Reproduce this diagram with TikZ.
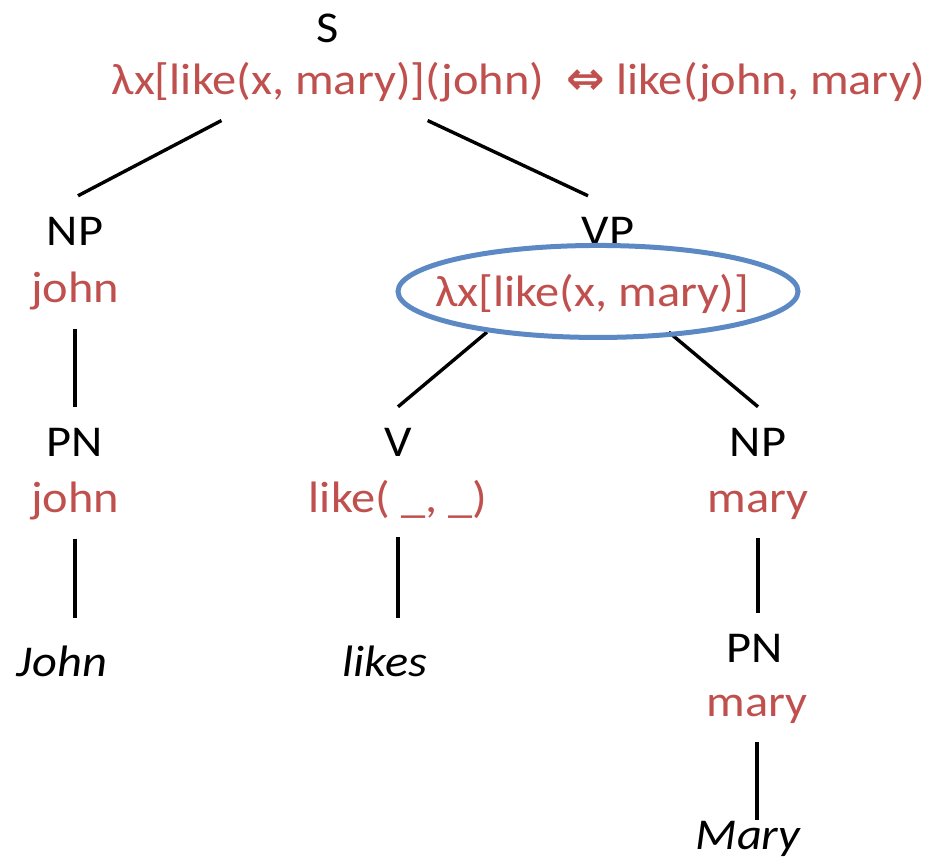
\documentclass[tikz,border=0pt]{standalone}
\usepackage{fontspec}
\setmainfont{Carlito}[FakeStretch=1.1]
\newfontfamily\arrowfont{DejaVu Sans Bold}
\usetikzlibrary{positioning,calc}
\definecolor{semred}{RGB}{192,80,77}
\definecolor{ringblue}{RGB}{92,137,196}

\begin{document}
\begin{tikzpicture}[x=1pt,y=-1pt,
  every node/.style={font=\fontsize{44}{50}\selectfont,inner sep=0pt,anchor=base},
  cat/.style={outer ysep=21pt},
  sem/.style={text=semred,outer ysep=19pt},
  word/.style={font=\fontsize{44}{50}\selectfont\itshape,outer ysep=27pt},
  branch/.style={line width=3.4pt}]
\useasboundingbox (0,0) rectangle (936,862);

% sentence
\node[cat] (s) at (328,42) {S};
\node[sem] (ssem) at (328,94) {λx[like(x, mary)](john)};
\node[sem,base right=22pt of ssem] (ssemeq) {{\arrowfont\fontsize{46}{50}\selectfont ⇔} like(john, mary)};

% subject
\node[cat] (np) at (75,245) {NP};
\node[sem] (npsem) at (75,302) {john};
\node[cat] (pn) at (75,456) {PN};
\node[sem] (pnsem) at (75,512) {john};
\node[word] (john) at (62,676) {John};

% verb phrase
\node[cat] (vp) at (608,245) {VP};
\node[sem] (vpsem) at (592,306) {λx[like(x, mary)]};
\node[cat] (v) at (398,456) {V};
\node[sem] (vsem) at (398,512) {like( \symbol{95}, \symbol{95})};
\node[word] (likes) at (385,676) {likes};

% object
\node[cat] (obj) at (758,456) {NP};
\node[sem] (objsem) at (758,512) {mary};
\node[cat] (opn) at (755,662) {PN};
\node[sem] (opnsem) at (757,716) {mary};
\node[word,outer ysep=1pt] (mary) at (748,849) {Mary};

% branches
\draw[branch] ($(ssem.south west)!0.254!(ssem.south east)$) -- ($(np.north)+(3,0)$);
\draw[branch] ($(ssem.south west)!0.73!(ssem.south east)$) -- ($(vp.north)+(-20,0)$);
\draw[branch] (npsem.south) -- (pn.north);
\draw[branch] (pnsem.south) -- (pnsem.south |- john.north);
\draw[branch] ($(vpsem.south west)!0.166!(vpsem.south east)$) -- (v.north);
\draw[branch] ($(vpsem.south west)!0.744!(vpsem.south east)$) -- (obj.north);
\draw[branch] (vsem.south) -- (vsem.south |- likes.north);
\draw[branch] (objsem.south) -- (objsem.south |- opn.north);
\draw[branch] (opnsem.south) -- (opnsem.south |- mary.north);

% the lambda term under discussion
\draw[ringblue,line width=5pt] ($(vpsem.center)+(6,-2)$) ellipse [x radius=200,y radius=46];
\end{tikzpicture}
\end{document}
